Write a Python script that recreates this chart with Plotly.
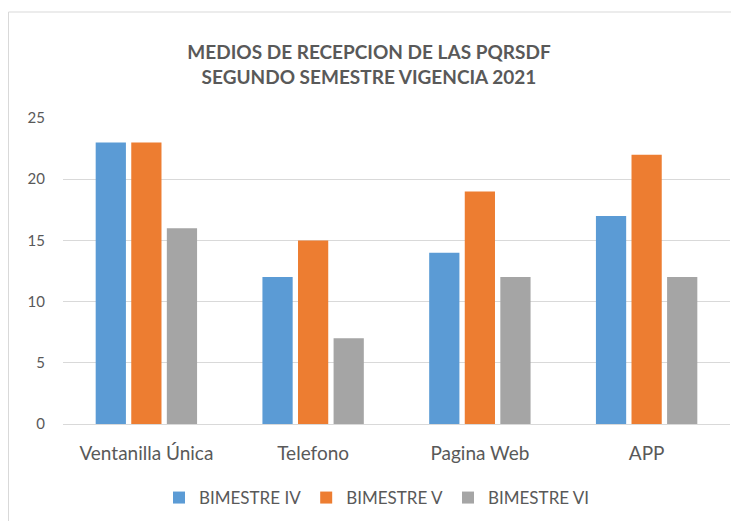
import plotly.graph_objects as go

categories = ["Ventanilla Única", "Telefono", "Pagina Web", "APP"]
series_names = ["BIMESTRE IV", "BIMESTRE V", "BIMESTRE VI"]
bim_iv = [23, 12, 14, 17]
bim_v = [23, 15, 19, 22]
bim_vi = [16, 7, 12, 12]
colors = ["#5B9BD5", "#ED7D31", "#A5A5A5"]

fig = go.Figure()
for name, vals, c in zip(series_names, [bim_iv, bim_v, bim_vi], colors):
    fig.add_trace(go.Bar(x=categories, y=vals, name=name, marker_color=c,
                         marker_line_width=0))

OFF = 8  # default page body margin
W, H = 739 - OFF, 521 - OFF
L, R, T, B = 63 - OFF, 9, 118 - OFF, 521 - 424
pw, ph = W - L - R, H - T - B
y0px = 424 - OFF  # pixel of value 0 in figure coords

fig.update_layout(
    width=W, height=H,
    margin=dict(l=L, r=R, t=T, b=B, autoexpand=False),
    paper_bgcolor="white", plot_bgcolor="white",
    font=dict(family="Lato, Open Sans, sans-serif", color="#595959"),
    title=dict(text="<b>MEDIOS DE RECEPCION DE LAS PQRSDF<br>SEGUNDO SEMESTRE VIGENCIA 2021</b>",
               x=(369 - OFF) / W, xanchor="center", y=1 - (59 - OFF) / H, yanchor="middle",
               font=dict(size=19, color="#595959", family="Lato, Open Sans, sans-serif")),
    barmode="group", bargap=0.36, bargroupgap=0.15,
    showlegend=True,
    legend=dict(orientation="h", x=(377 - 63) / pw, xanchor="center",
                y=(y0px - (498 - OFF)) / ph, yanchor="middle",
                font=dict(size=17, color="#595959"), itemwidth=30, traceorder="normal"),
    xaxis=dict(showgrid=False, showline=True, linecolor="#D9D9D9", ticks="",
               tickfont=dict(size=19, color="#595959"), ticklabelstandoff=12),
    yaxis=dict(range=[0, 25], dtick=5, showgrid=True, gridcolor="#D9D9D9", gridwidth=1,
               zeroline=False, showline=False, ticks="",
               tickfont=dict(size=15, color="#595959"), ticklabelstandoff=17),
    shapes=[dict(type="rect", xref="paper", yref="paper",
                 x0=(0.5 - L) / pw, x1=(760 - L) / pw,
                 y0=(y0px - 540) / ph, y1=(y0px - (12 - OFF)) / ph,
                 line=dict(color="#D9D9D9", width=1), fillcolor="rgba(0,0,0,0)", layer="below")],
)

fig.write_html("out.html")
